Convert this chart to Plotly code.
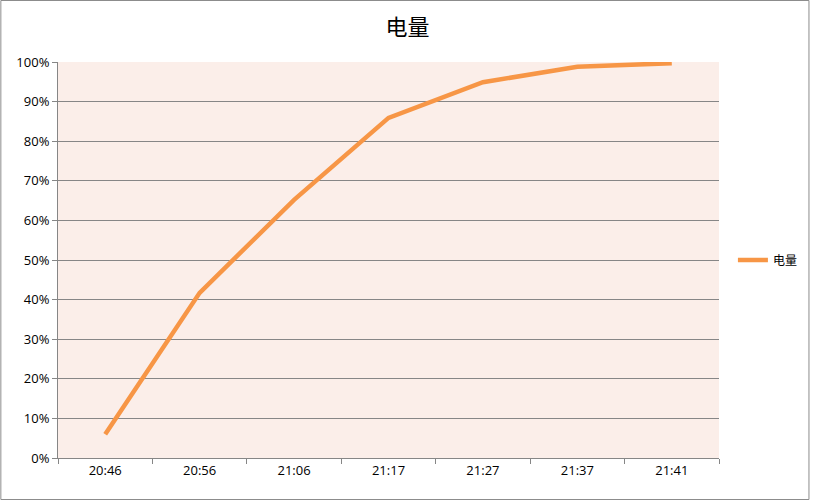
#!/usr/bin/env python3
"""Battery charge (电量) line chart."""

import plotly.graph_objects as go

# data
times = ["20:46", "20:56", "21:06", "21:17", "21:27", "21:37", "21:41"]
charge = [0.06, 0.417, 0.652, 0.859, 0.949, 0.988, 0.997]
series_name = "电量"
y_ticks = [0, 0.1, 0.2, 0.3, 0.4, 0.5, 0.6, 0.7, 0.8, 0.9, 1.0]

LINE_COLOR = "#F79646"
GRID_COLOR = "#868686"
PLOT_BG = "#FBEEE9"
TEXT_FONT = "Open Sans, Noto Sans CJK SC, sans-serif"

W, H = 815, 501
M_L, M_R, M_T, M_B = 58, 92, 62, 43
pw, ph = W - M_L - M_R, H - M_T - M_B

fig = go.Figure()
fig.add_trace(go.Scatter(
    x=times,
    y=charge,
    mode="lines",
    name=series_name,
    line=dict(color=LINE_COLOR, width=4.5),
))

# outer chart border
fig.add_shape(
    type="rect", xref="paper", yref="paper",
    x0=(0.5 - M_L) / pw, x1=(W - 1.5 - M_L) / pw,
    y0=-(M_B - 1.5) / ph, y1=1 + (M_T - 0.5) / ph,
    line=dict(color="#8C8C8C", width=1), fillcolor="rgba(0,0,0,0)",
    layer="above",
)

fig.update_layout(
    height=H,
    margin=dict(l=M_L, r=M_R, t=M_T, b=M_B),
    paper_bgcolor="white",
    plot_bgcolor=PLOT_BG,
    font=dict(family=TEXT_FONT, size=13, color="black"),
    title=dict(
        text="电量",
        x=0.5, xref="container", xanchor="center",
        y=1 - 27 / H, yref="container", yanchor="middle",
        font=dict(family="Noto Sans CJK SC, sans-serif", size=22, color="black"),
    ),
    showlegend=True,
    legend=dict(
        x=1 + 14 / pw, xanchor="left", y=0.5, yanchor="middle",
        font=dict(family="Noto Sans CJK SC, sans-serif", size=12),
        itemwidth=30, bgcolor="rgba(0,0,0,0)",
    ),
    xaxis=dict(
        type="category",
        range=[-0.5, len(times) - 0.5],
        tickson="boundaries",
        ticks="outside", ticklen=5, tickcolor=GRID_COLOR,
        showline=True, linecolor=GRID_COLOR, linewidth=1,
        showgrid=False, zeroline=False,
        tickfont=dict(size=13),
    ),
    yaxis=dict(
        range=[0, 1],
        tickvals=y_ticks,
        tickformat=".0%",
        ticks="outside", ticklen=5, tickcolor=GRID_COLOR,
        showline=True, linecolor=GRID_COLOR, linewidth=1,
        showgrid=True, gridcolor=GRID_COLOR, gridwidth=1,
        zeroline=False,
        tickfont=dict(size=13),
    ),
)

# page defaults add a margin and can overflow; pin the chart to the window
page_fix = (
    "for (const el of [document.documentElement, document.body]) {"
    " el.style.margin = '0'; el.style.padding = '0'; el.style.overflow = 'hidden'; }"
    " window.dispatchEvent(new Event('resize'));"
)
fig.write_html(
    "out.html",
    config={"displayModeBar": False},
    default_width="100%",
    post_script=page_fix,
)
